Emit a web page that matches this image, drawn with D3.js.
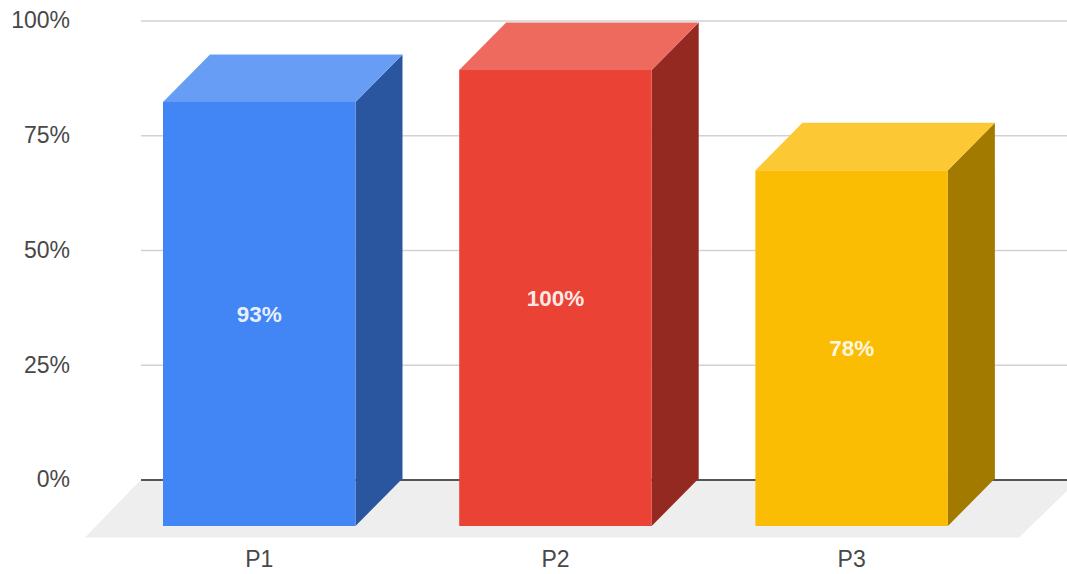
<!DOCTYPE html>
<html>
<head>
<meta charset="utf-8">
<script src="https://d3js.org/d3.v7.min.js"></script>
<style>
  html, body { margin: 0; padding: 0; background: #fff; }
  svg { display: block; }
  text { font-family: "Liberation Sans", Arial, sans-serif; }
</style>
</head>
<body>
<svg id="chart" width="1067" height="574"></svg>
<script>
// Chart data
const categories = ["P1", "P2", "P3"];
const values = [93, 100, 78];
const valueLabels = ["93%", "100%", "78%"];
const axisTicks = [0, 25, 50, 75, 100];
const frontColors = ["#4285f4", "#ea4335", "#fbbc04"];
const topColors = ["#689df6", "#ee6a5f", "#fcc934"];
const sideColors = ["#2a56a0", "#932920", "#a37a00"];

const svg = d3.select("#chart");

// Depth of the extruded columns
const depthX = 47, depthY = 47.5;

// Scales: the wall carries the gridlines, the columns stand on the front of the floor
const step = 296.2, barW = 192.5, firstBar = 163;
const gap = (step - barW) / step;
const x = d3.scaleBand()
  .domain(categories)
  .range([firstBar - (step - barW) / 2, firstBar - (step - barW) / 2 + step * categories.length])
  .paddingInner(gap)
  .paddingOuter(gap / 2);
const yWall = d3.scaleLinear().domain([0, 100]).range([479.5, 20.5]);
const yBar = d3.scaleLinear().domain([0, 100]).range([526, 70]);

// Floor
const floorPts = [[141, 479.5], [1067, 479.5], [1067, 491], [1019, 537.5], [85, 537.5]];
svg.append("polygon")
  .attr("points", floorPts.map(p => p.join(",")).join(" "))
  .attr("fill", "#eeeeee");

// Value axis with gridlines across the back wall
const yAxis = d3.axisLeft(yWall)
  .tickValues(axisTicks)
  .tickFormat(d => d + "%")
  .tickSize(0)
  .tickPadding(71);
const yG = svg.append("g").attr("transform", "translate(141,0)").call(yAxis);
yG.select(".domain").remove();
yG.selectAll("text").attr("font-size", 23).attr("fill", "#484848").attr("font-family", null);
yG.selectAll("line")
  .attr("x2", 926)
  .attr("stroke", d => d === 0 ? "#555555" : "#d2d2d2")
  .attr("stroke-width", d => d === 0 ? 1.8 : 1.6);

// Category axis
const xAxis = d3.axisBottom(x).tickSize(0).tickPadding(14);
const xG = svg.append("g").attr("transform", "translate(0,537)").call(xAxis);
xG.select(".domain").remove();
xG.selectAll("text").attr("font-size", 23).attr("fill", "#484848").attr("font-family", null);

// Columns: side face, top face, front face
const bars = svg.selectAll("g.bar")
  .data(categories.map((c, i) => ({ c, i, v: values[i], label: valueLabels[i] })))
  .join("g").attr("class", "bar");

bars.append("polygon")
  .attr("fill", d => sideColors[d.i])
  .attr("points", d => {
    const r = x(d.c) + x.bandwidth(), t = yBar(d.v), b = yBar(0);
    return [[r, t], [r + depthX, t - depthY], [r + depthX, b - depthY], [r, b]].map(p => p.join(",")).join(" ");
  });

bars.append("polygon")
  .attr("fill", d => topColors[d.i])
  .attr("points", d => {
    const l = x(d.c), r = l + x.bandwidth(), t = yBar(d.v);
    return [[l, t], [l + depthX, t - depthY], [r + depthX, t - depthY], [r, t]].map(p => p.join(",")).join(" ");
  });

bars.append("rect")
  .attr("fill", d => frontColors[d.i])
  .attr("x", d => x(d.c))
  .attr("y", d => yBar(d.v))
  .attr("width", x.bandwidth())
  .attr("height", d => yBar(0) - yBar(d.v));

// Value labels centred on the front faces
bars.append("text")
  .attr("x", d => x(d.c) + x.bandwidth() / 2)
  .attr("y", d => (yBar(d.v) + yBar(0)) / 2)
  .attr("dy", "0.35em")
  .attr("text-anchor", "middle")
  .attr("font-size", 22.5)
  .attr("font-weight", "bold")
  .attr("fill", "#ffffff")
  .attr("fill-opacity", 0.9)
  .text(d => d.label);
</script>
</body>
</html>
